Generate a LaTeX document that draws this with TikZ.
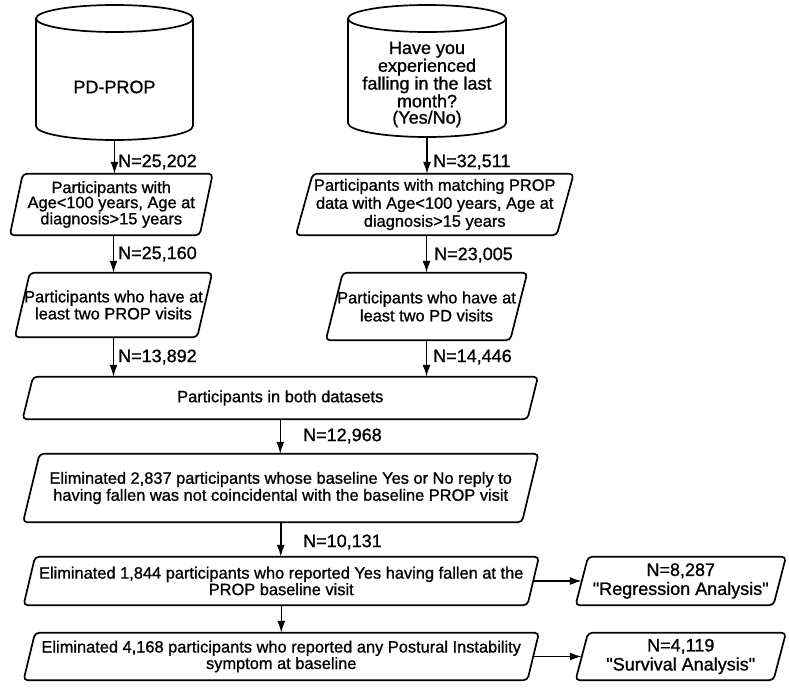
\documentclass[tikz,border=0pt]{standalone}
\usepackage{fontspec}
\setmainfont{Liberation Sans}[Ligatures=TeXOff,FakeBold=1]
\usetikzlibrary{arrows.meta,calc}
\tikzset{
  pbox/.style={rectangle, inner sep=0pt, align=center},
  pline/.style={draw=black, line width=1.7pt, rounded corners=4pt, line join=round},
  cylline/.style={draw=black, line width=1.7pt},
  cyltext/.style={align=center, inner sep=0pt, font=\fontsize{18}{16.3}\selectfont},
  arr/.style={line width=1.5pt, -{Latex[length=12pt,width=8pt]}},
  lbl/.style={anchor=west, inner sep=0pt, font=\fontsize{18}{20}\selectfont},
}
% name, cx, cy (downward), width, height, slant, font size, baselineskip, text
\newcommand\pgram[9]{%
  \node[pbox, minimum width=#4pt, minimum height=#5pt, font=\fontsize{#7}{#8}\selectfont] (#1) at (#2,-#3) {#9};
  \draw[pline] ($(#1.north west)+(#6/2,0)$) -- ($(#1.north east)+(#6/2,0)$) -- ($(#1.south east)-(#6/2,0)$) -- ($(#1.south west)-(#6/2,0)$) -- cycle;
}
\begin{document}
\begin{tikzpicture}[x=1pt,y=1pt]
\fill[white] (0,0) rectangle (789,-688);
\useasboundingbox (0,0) rectangle (789,-688);

% cylinders
\draw[cylline] (114.5,-18.5) ellipse [x radius=78.5pt, y radius=13.5pt];
\draw[cylline] (36,-18.5) -- (36,-126) arc[start angle=180, end angle=360, x radius=78.5pt, y radius=14pt] -- (193,-18.5);
\node[cyltext] (cyl1) at (114.5,-87) {PD-PROP};
\coordinate (cyl1b) at (114.5,-140);

\draw[cylline] (427,-18.5) ellipse [x radius=79pt, y radius=13.5pt];
\draw[cylline] (348,-18.5) -- (348,-123) arc[start angle=180, end angle=360, x radius=79pt, y radius=14pt] -- (506,-18.5);
\node[cyltext] (cyl2) at (427,-84.5) {Have you\\experienced\\falling in the last\\month?\\(Yes/No)};
\coordinate (cyl2b) at (427,-137);

% boxes
\pgram{box1}{111.25}{204.5}{189.5}{61}{13}{16.4}{15}{Participants with\\Age<100 years, Age at\\diagnosis>15 years}
\pgram{box2}{434.75}{204.5}{260.5}{61}{17}{16.4}{18}{Participants with matching PROP\\data with Age<100 years, Age at\\diagnosis>15 years}
\pgram{box3}{113.5}{305}{182}{64}{15}{16.4}{17}{Participants who have at\\least two PROP visits}
\pgram{box4}{426.5}{306.5}{184}{67}{17}{16.4}{18}{Participants who have at\\least two PD visits}
\pgram{box5}{280.25}{398}{504.5}{42}{10.5}{16.4}{17}{Participants in both datasets}
\pgram{box6}{280.75}{488}{498.5}{68}{16.5}{16.4}{17}{Eliminated 2,837 participants whose baseline Yes or No reply to\\having fallen was not coincidental with the baseline PROP visit}
\pgram{box7}{281.25}{581}{503.5}{48}{11.5}{16.4}{16.5}{Eliminated 1,844 participants who reported Yes having fallen at the\\PROP baseline visit}
\pgram{box9}{281.25}{656.5}{503.5}{47}{11.5}{16.4}{16.5}{Eliminated 4,168 participants who reported any Postural Instability\\symptom at baseline}
\pgram{box8}{680.75}{581}{197.5}{48}{12.5}{18}{19}{N=8,287\\"Regression Analysis"}
\pgram{box10}{680.75}{656.5}{197.5}{47}{12.5}{18}{19}{N=4,119\\"Survival Analysis"}

% connectors
\draw[arr] (cyl1b) -- (cyl1b |- box1.north);
\draw[arr] (cyl2b) -- (cyl2b |- box2.north);
\draw[arr] (box1.south -| box3.north) -- (box3.north);
\draw[arr] (box2.south -| box4.north) -- (box4.north);
\draw[arr] (box3.south) -- (box3.south |- box5.north);
\draw[arr] (box4.south) -- (box4.south |- box5.north);
\draw[arr] (box5.south) -- (box5.south |- box6.north);
\draw[arr] (box6.south) -- (box6.south |- box7.north);
\draw[arr] (box7.south) -- (box7.south |- box9.north);
\draw[arr] (box7.east) -- (box8.west);
\draw[arr] (box9.east) -- (box10.west);

% labels
\node[lbl] (l1) at (118,-162) {N=25,202};
\node[lbl] (l2) at (433,-162) {N=32,511};
\node[lbl] (l3) at (118,-254) {N=25,160};
\node[lbl] (l4) at (434,-255) {N=23,005};
\node[lbl] (l5) at (118,-357) {N=13,892};
\node[lbl] (l6) at (433,-357) {N=14,446};
\node[lbl] (l7) at (303,-436) {N=12,968};
\node[lbl] (l8) at (303,-542) {N=10,131};
\end{tikzpicture}
\end{document}
